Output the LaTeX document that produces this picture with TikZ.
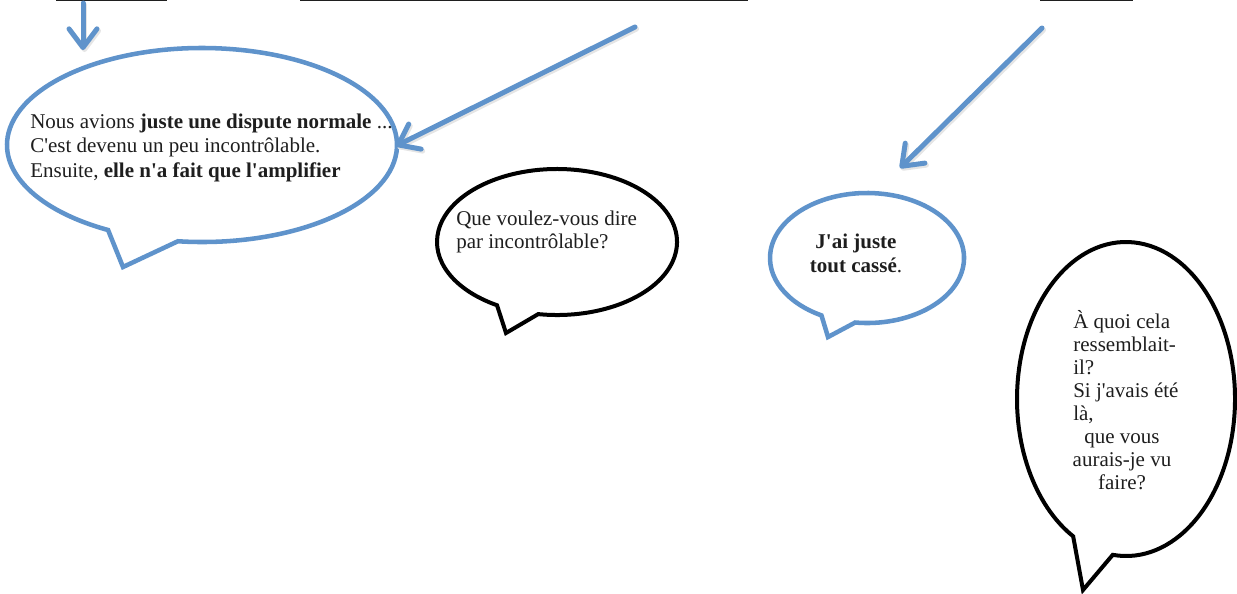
\documentclass[tikz,border=0pt]{standalone}
\usepackage{fontspec}
\setmainfont{Liberation Serif}
\usetikzlibrary{arrows.meta,calc}
\definecolor{bblue}{RGB}{95,147,203}
\definecolor{txtc}{RGB}{30,30,30}
\newcommand\ap{\textquotesingle}
\newcommand\bubfont[1]{\fontsize{15.75pt}{#1}\selectfont}
\tikzset{
  bluebub/.style={draw=bblue, line width=3.4pt, line join=miter},
  blackbub/.style={draw=black, line width=3pt, line join=miter},
  barrow/.style={draw=bblue, line width=3.75pt, line cap=round, -{Straight Barb[length=14pt,width=21pt,round]}},
  shadarrow/.style={draw=black!10, line width=3.75pt, line cap=round, -{Straight Barb[length=14pt,width=21pt,round]}},
  txt/.style={inner sep=0pt, text=txtc},
  uline/.style={draw=black!88, line width=1.1pt}
}
\begin{document}
\begin{tikzpicture}[x=0.75pt, y=-0.75pt]
\useasboundingbox (0,0) rectangle (1237,593);

% cut-off underlines at the top
\coordinate (u1a) at (56,0.7);  \coordinate (u1b) at (167,0.7);
\coordinate (u2a) at (300,0.7); \coordinate (u2b) at (748,0.7);
\coordinate (u3a) at (1040,0.7); \coordinate (u3b) at (1133,0.7);
\draw[uline] (u1a) -- (u1b);
\draw[uline] (u2a) -- (u2b);
\draw[uline] (u3a) -- (u3b);

% bubble centres
\coordinate (b1) at (202,145);
\coordinate (b2) at (557,242);
\coordinate (b3) at (867,258);
\coordinate (b4) at (1126,399);
\coordinate (k1) at (123,267);
\coordinate (k2) at (506,333);
\coordinate (k3) at (828,337);
\coordinate (k4) at (1083,590);

% bubble 1 (blue)
\draw[bluebub] ($(b1)+(118.8:195 and 97)$) -- (k1) -- ($(b1)+(97.1:195 and 97)$)
  arc[start angle=97.1, end angle=-241.2, x radius=195, y radius=97] -- cycle;
% bubble 2 (black)
\draw[blackbub] ($(b2)+(120:120 and 73)$) -- (k2) -- ($(b2)+(99:120 and 73)$)
  arc[start angle=99, end angle=-240, x radius=120, y radius=73] -- cycle;
% bubble 3 (blue)
\draw[bluebub] ($(b3)+(118:97 and 65)$) -- (k3) -- ($(b3)+(97:97 and 65)$)
  arc[start angle=97, end angle=-242, x radius=97, y radius=65] -- cycle;
% bubble 4 (black)
\draw[blackbub] ($(b4)+(119:109 and 157)$) -- (k4) -- ($(b4)+(97:109 and 157)$)
  arc[start angle=97, end angle=-241, x radius=109, y radius=157] -- cycle;

% arrows
\coordinate (a1s) at (83,3);    \coordinate (a1e) at (83,50);
\coordinate (a2s) at (635,27);  \coordinate (a2e) at (396,146);
\coordinate (a3s) at (1042,28); \coordinate (a3e) at (900,168);
\draw[shadarrow] ([shift={(1.5,2)}]a1s) -- ([shift={(1.5,2)}]a1e);
\draw[shadarrow] ([shift={(1.5,2)}]a2s) -- ([shift={(1.5,2)}]a2e);
\draw[shadarrow] ([shift={(1.5,2)}]a3s) -- ([shift={(1.5,2)}]a3e);
\draw[barrow] (a1s) -- (a1e);
\draw[barrow] (a2s) -- (a2e);
\draw[barrow] (a3s) -- (a3e);

% texts
\node[txt, anchor=base west] (t1) at (30,128) {\bubfont{18.4pt}\begin{tabular}[t]{@{}l@{}}Nous avions \textbf{juste une dispute normale} ...\\ C\ap est devenu un peu incontrôlable.\\ Ensuite, \textbf{elle n\ap a fait que l\ap amplifier}\end{tabular}};
\node[txt, anchor=base west] (t2) at (456,225) {\bubfont{17.6pt}\begin{tabular}[t]{@{}l@{}}Que voulez-vous dire\\ par incontrôlable?\end{tabular}};
\node[txt, anchor=base] (t3) at (856,248) {\bubfont{18.2pt}\begin{tabular}[t]{@{}c@{}}\textbf{J\ap ai juste}\\ \textbf{tout cassé}.\end{tabular}};
\node[txt, anchor=base west] (t4) at (1073,328) {\bubfont{17.25pt}\begin{tabular}[t]{@{}l@{}}À quoi cela\\ ressemblait-\\ il?\\ Si j\ap avais été\\ là,\end{tabular}};
\node[txt, anchor=base] (t5) at (1122,443) {\bubfont{17.25pt}\begin{tabular}[t]{@{}c@{}}que vous\\ aurais-je vu\\ faire?\end{tabular}};
\end{tikzpicture}
\end{document}
